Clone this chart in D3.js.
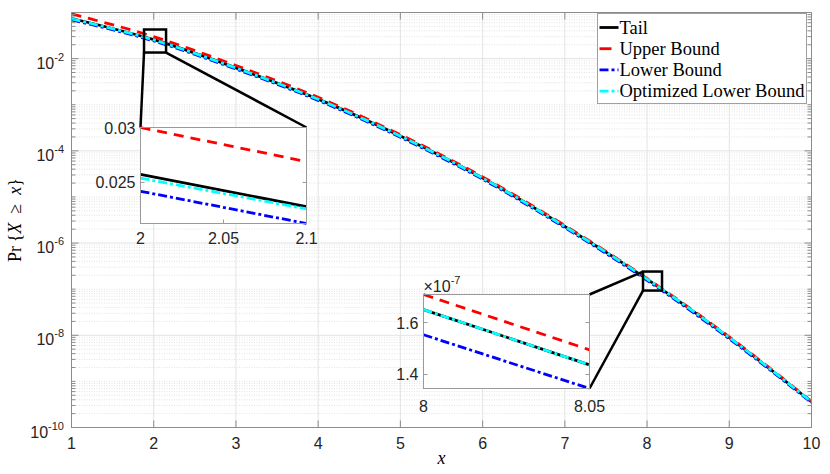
<!DOCTYPE html>
<html>
<head>
<meta charset="utf-8">
<script src="https://cdn.jsdelivr.net/npm/d3@7"></script>
<style>
  body { margin: 0; background: #fff; }
  text { font-family: "Liberation Sans", Arial, sans-serif; }
</style>
</head>
<body>
<div id="chart"></div>
<script>
// values
const xValues = [1, 2, 3, 4, 5, 6, 7, 8, 9, 10];
const tailValues = [0.0741, 0.0257, 6.3e-3, 1.32e-3, 2.09e-4, 2.57e-5, 2.29e-6, 1.65e-7, 8.9e-9, 3.6e-10];
const upperValues = [0.093, 0.0299, 7.1e-3, 1.45e-3, 2.24e-4, 2.72e-5, 2.40e-6, 1.707e-7, 9.2e-9, 3.7e-10];
const lowerValues = [0.0692, 0.0242, 5.94e-3, 1.24e-3, 1.97e-4, 2.42e-5, 2.16e-6, 1.553e-7, 8.4e-9, 3.45e-10];
const optValues = [0.0730, 0.0254, 6.25e-3, 1.31e-3, 2.08e-4, 2.56e-5, 2.28e-6, 1.65e-7, 8.9e-9, 3.6e-10];

// zoomed insets
const inset1X = [2, 2.1];
const inset1Tail = [0.02573, 0.0228];
const inset1Upper = [0.0300, 0.0269];
const inset1Lower = [0.0242, 0.02127];
const inset1Opt = [0.0254, 0.0226];

const inset2X = [8, 8.05];           // values in units of 1e-7
const inset2Tail = [1.650, 1.437];
const inset2Upper = [1.708, 1.495];
const inset2Lower = [1.553, 1.346];
const inset2Opt = [1.650, 1.437];

const seriesNames = ["Tail", "Upper Bound", "Lower Bound", "Optimized Lower Bound"];

const xTicks = [1, 2, 3, 4, 5, 6, 7, 8, 9, 10];
const yTickExps = [-10, -8, -6, -4, -2];

const width = 830, height = 474;
const box = {left: 71.5, right: 811.5, top: 12.5, bottom: 427.5};

const styles = [
    {color: "#000000", dash: null},
    {color: "#ff0000", dash: "10,7"},
    {color: "#0000ff", dash: "9,3,3,3"},
    {color: "#00ffff", dash: "9,3,3,3"}
];
const lineW = 2.8;

const svg = d3.select("#chart").append("svg")
    .attr("width", width)
    .attr("height", height);

svg.append("rect").attr("width", width).attr("height", height).attr("fill", "#fff");

const x = d3.scaleLinear().domain([1, 10]).range([box.left, box.right]);
const y = d3.scaleLog().domain([1e-10, 1e-1]).range([box.bottom, box.top]);

// Grid: minor dotted (log), major solid
const minorVals = [];
for (let e = -10; e < -1; e++) {
    for (let k = 2; k <= 9; k++) minorVals.push(k * Math.pow(10, e));
    if (e % 2 !== 0) minorVals.push(Math.pow(10, e));
}
svg.append("g").selectAll("line").data(minorVals).enter().append("line")
    .attr("x1", box.left).attr("x2", box.right)
    .attr("y1", d => y(d)).attr("y2", d => y(d))
    .attr("stroke", "#dcdcdc").attr("stroke-width", 0.8)
    .attr("stroke-dasharray", "1,1.5");

svg.append("g").selectAll("line").data(yTickExps).enter().append("line")
    .attr("x1", box.left).attr("x2", box.right)
    .attr("y1", d => y(Math.pow(10, d))).attr("y2", d => y(Math.pow(10, d)))
    .attr("stroke", "#e3e3e3").attr("stroke-width", 1);

svg.append("g").selectAll("line").data(xTicks).enter().append("line")
    .attr("x1", d => x(d)).attr("x2", d => x(d))
    .attr("y1", box.top).attr("y2", box.bottom)
    .attr("stroke", "#e3e3e3").attr("stroke-width", 1);

// Curves
svg.append("clipPath").attr("id", "plotclip").append("rect")
    .attr("x", box.left).attr("y", box.top)
    .attr("width", box.right - box.left).attr("height", box.bottom - box.top);

const mainSeries = [tailValues, upperValues, lowerValues, optValues];
const line = d3.line()
    .x(d => x(d[0]))
    .y(d => y(d[1]))
    .curve(d3.curveMonotoneX);

const curves = svg.append("g").attr("clip-path", "url(#plotclip)");
mainSeries.forEach((vals, i) => {
    curves.append("path")
        .datum(xValues.map((xv, j) => [xv, vals[j]]))
        .attr("d", line)
        .attr("fill", "none")
        .attr("stroke", styles[i].color)
        .attr("stroke-width", lineW)
        .attr("stroke-dasharray", styles[i].dash);
});

// Axis box and ticks
const axisColor = "#8c8c8c";
svg.append("rect")
    .attr("x", box.left).attr("y", box.top)
    .attr("width", box.right - box.left).attr("height", box.bottom - box.top)
    .attr("fill", "none").attr("stroke", axisColor).attr("stroke-width", 1);

const ticks = svg.append("g").attr("stroke", axisColor).attr("stroke-width", 1);
xTicks.forEach(t => {
    ticks.append("line").attr("x1", x(t)).attr("x2", x(t)).attr("y1", box.bottom).attr("y2", box.bottom - 7);
    ticks.append("line").attr("x1", x(t)).attr("x2", x(t)).attr("y1", box.top).attr("y2", box.top + 7);
});
yTickExps.forEach(e => {
    const yy = y(Math.pow(10, e));
    ticks.append("line").attr("x1", box.left).attr("x2", box.left + 7).attr("y1", yy).attr("y2", yy);
    ticks.append("line").attr("x1", box.right).attr("x2", box.right - 7).attr("y1", yy).attr("y2", yy);
});
minorVals.forEach(v => {
    const yy = y(v);
    ticks.append("line").attr("x1", box.left).attr("x2", box.left + 4).attr("y1", yy).attr("y2", yy);
    ticks.append("line").attr("x1", box.right).attr("x2", box.right - 4).attr("y1", yy).attr("y2", yy);
});

// Tick labels
svg.append("g").selectAll("text").data(xTicks).enter().append("text")
    .attr("x", d => x(d)).attr("y", box.bottom + 21)
    .attr("text-anchor", "middle")
    .style("font-size", "16px").attr("fill", "#262626")
    .text(d => d);

yTickExps.forEach(e => {
    const t = svg.append("text")
        .attr("x", 64).attr("y", y(Math.pow(10, e)) + 10)
        .attr("text-anchor", "end")
        .style("font-size", "16px").attr("fill", "#262626")
        .text("10");
    t.append("tspan").attr("dy", -8).style("font-size", "11px").text(e);
});

// Axis labels
const serif = "'Liberation Serif', 'Times New Roman', serif";
svg.append("text")
    .attr("x", (box.left + box.right) / 2).attr("y", 464)
    .attr("text-anchor", "middle")
    .style("font-family", serif).style("font-size", "18px").style("font-style", "italic")
    .text("x");

const yl = svg.append("text")
    .attr("transform", `translate(21,${(box.top + box.bottom) / 2}) rotate(-90)`)
    .attr("text-anchor", "middle")
    .style("font-family", serif).style("font-size", "18px")
    .attr("xml:space", "preserve");
yl.append("tspan").text("Pr\u2009{");
yl.append("tspan").style("font-style", "italic").text("X");
yl.append("tspan").text("\u2002\u2265\u2002");
yl.append("tspan").style("font-style", "italic").text("x");
yl.append("tspan").text("}");

// Legend
const legend = svg.append("g").attr("transform", "translate(597.5,13.5)");
legend.append("rect")
    .attr("width", 209).attr("height", 90)
    .attr("fill", "#fff").attr("stroke", "#a0a0a0").attr("stroke-width", 1);
seriesNames.forEach((name, i) => {
    const ly = 14 + i * 21.2;
    legend.append("line")
        .attr("x1", 2).attr("x2", 21).attr("y1", ly).attr("y2", ly)
        .attr("stroke", styles[i].color).attr("stroke-width", lineW)
        .attr("stroke-dasharray", i === 1 ? "12,20" : styles[i].dash);
    legend.append("text")
        .attr("x", 22).attr("y", ly + 6)
        .style("font-family", serif).style("font-size", "18.5px")
        .attr("fill", "#000")
        .text((i === 1 ? " " : "") + name);
});

// Zoom markers on the main plot and connector lines
const zoomRects = [
    {x0: 1.882, x1: 2.150, y0: 0.01355, y1: 0.0428},
    {x0: 7.951, x1: 8.182, y0: 9.33e-8, y1: 2.41e-7}
];
zoomRects.forEach(r => {
    svg.append("rect")
        .attr("x", x(r.x0)).attr("y", y(r.y1))
        .attr("width", x(r.x1) - x(r.x0)).attr("height", y(r.y0) - y(r.y1))
        .attr("fill", "none").attr("stroke", "#000").attr("stroke-width", 2.5);
});

const inset1Box = {left: 140.5, right: 306.5, top: 127.5, bottom: 223.5};
const inset2Box = {left: 423.5, right: 589.5, top: 294.5, bottom: 388.5};

const connectors = [
    [[x(zoomRects[0].x0), y(zoomRects[0].y0)], [inset1Box.left, inset1Box.top]],
    [[x(zoomRects[0].x1), y(zoomRects[0].y0)], [inset1Box.right, inset1Box.top]],
    [[x(zoomRects[1].x0), y(zoomRects[1].y1)], [inset2Box.right, inset2Box.top]],
    [[x(zoomRects[1].x0), y(zoomRects[1].y0)], [inset2Box.right, inset2Box.bottom]]
];
connectors.forEach(c => {
    svg.append("line")
        .attr("x1", c[0][0]).attr("y1", c[0][1]).attr("x2", c[1][0]).attr("y2", c[1][1])
        .attr("stroke", "#000").attr("stroke-width", 2.5);
});

// Insets
function drawInset(b, xs, series, xTickVals, yTickVals, yFmt, labelDy) {
    const all = series.flat();
    const ix = d3.scaleLinear().domain(d3.extent(xs)).range([b.left, b.right]);
    const iy = d3.scaleLinear().domain(d3.extent(all)).range([b.bottom, b.top]);
    const g = svg.append("g");
    g.append("rect")
        .attr("x", b.left).attr("y", b.top)
        .attr("width", b.right - b.left).attr("height", b.bottom - b.top)
        .attr("fill", "#fff");
    const clipId = "clip" + Math.round(b.left);
    g.append("clipPath").attr("id", clipId).append("rect")
        .attr("x", b.left - 1).attr("y", b.top - 2)
        .attr("width", b.right - b.left + 2).attr("height", b.bottom - b.top + 4);
    const il = d3.line().x(d => ix(d[0])).y(d => iy(d[1]));
    const lg = g.append("g").attr("clip-path", `url(#${clipId})`);
    series.forEach((vals, i) => {
        lg.append("path")
            .datum(xs.map((xv, j) => [xv, vals[j]]))
            .attr("d", il)
            .attr("fill", "none")
            .attr("stroke", styles[i].color)
            .attr("stroke-width", lineW)
            .attr("stroke-dasharray", styles[i].dash);
    });
    g.append("rect")
        .attr("x", b.left).attr("y", b.top)
        .attr("width", b.right - b.left).attr("height", b.bottom - b.top)
        .attr("fill", "none").attr("stroke", "#9a9a9a").attr("stroke-width", 1);
    xTickVals.forEach(t => {
        g.append("line").attr("x1", ix(t)).attr("x2", ix(t)).attr("y1", b.bottom).attr("y2", b.bottom - 4)
            .attr("stroke", "#9a9a9a");
        g.append("text").attr("x", ix(t)).attr("y", b.bottom + labelDy)
            .attr("text-anchor", "middle").style("font-size", "16px").attr("fill", "#262626")
            .text(t);
    });
    yTickVals.forEach(t => {
        g.append("line").attr("x1", b.left).attr("x2", b.left + 4).attr("y1", iy(t)).attr("y2", iy(t))
            .attr("stroke", "#9a9a9a");
        g.append("line").attr("x1", b.right).attr("x2", b.right - 4).attr("y1", iy(t)).attr("y2", iy(t))
            .attr("stroke", "#9a9a9a");
        g.append("text").attr("x", b.left - 5).attr("y", iy(t) + 6)
            .attr("text-anchor", "end").style("font-size", "16px").attr("fill", "#262626")
            .text(yFmt(t));
    });
    return g;
}

drawInset(inset1Box, inset1X, [inset1Tail, inset1Upper, inset1Lower, inset1Opt],
    [2, 2.05, 2.1], [0.025, 0.03], d => String(d), 20);

const g2 = drawInset(inset2Box, inset2X, [inset2Tail, inset2Upper, inset2Lower, inset2Opt],
    [8, 8.05], [1.4, 1.6], d => d.toFixed(1), 23);
const mult = g2.append("text")
    .attr("x", inset2Box.left).attr("y", inset2Box.top - 3)
    .style("font-size", "16px").attr("fill", "#262626")
    .text("\u00d710");
mult.append("tspan").attr("dy", -8).style("font-size", "11px").text("-7");
</script>
</body>
</html>
